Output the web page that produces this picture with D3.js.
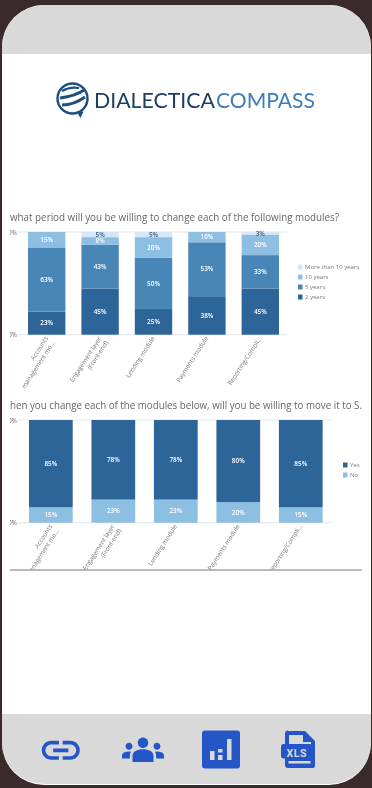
<!DOCTYPE html>
<html>
<head>
<meta charset="utf-8">
<script src="https://cdnjs.cloudflare.com/ajax/libs/d3/7.8.5/d3.min.js"></script>
<style>
html, body { margin: 0; padding: 0; background: #3b2a2b; overflow: hidden; }
text { font-family: "Open Sans", sans-serif; }
</style>
</head>
<body>
<div id="chart"></div>
<script>
var modules = [["Accounts", "management mo..."], ["Engagement layer", "(Front-end)"], ["Lending module"], ["Payments module"], ["Reporting/Compli..."]];

var periodKeys = ["2 years", "5 years", "10 years", "More than 10 years"];
var twoYears = [22.5, 45, 25, 37.5, 45];
var fiveYears = [62.5, 42.5, 50, 52.5, 32.5];
var tenYears = [15, 7.5, 20, 10, 20];
var moreThanTen = [0, 5, 5, 0, 2.5];

var moveKeys = ["No", "Yes"];
var moveNo = [15, 22.5, 22.5, 20, 15];
var moveYes = [85, 77.5, 77.5, 80, 85];

var titleOne = "what period will you be willing to change each of the following modules?";
var titleTwo = "hen you change each of the modules below, will you be willing to move it to S.";
var yTicks = [0, 100];

var c2 = "#2f6599", c5 = "#4a86b8", c10 = "#8dbfe3", cMore = "#d5e7f8";
var blue = "#2456c8";

var w = 372, h = 788;
var svg = d3.select("#chart").append("svg").attr("width", w).attr("height", h).style("display", "block");
var defs = svg.append("defs");
defs.append("clipPath").attr("id", "phone").append("rect")
    .attr("x", 2).attr("y", 5).attr("width", 369).attr("height", 779).attr("rx", 42);
defs.append("filter").attr("id", "soft").append("feGaussianBlur").attr("stdDeviation", 0.45);

// phone shell
svg.append("rect").attr("x", 2).attr("y", 5).attr("width", 369).attr("height", 780).attr("rx", 42).attr("fill", "#fff");
var screen = svg.append("g").attr("clip-path", "url(#phone)");
screen.append("rect").attr("x", 0).attr("y", 0).attr("width", w).attr("height", 54).attr("fill", "#d9d9d9");
screen.append("rect").attr("x", 0).attr("y", 714).attr("width", w).attr("height", 70).attr("fill", "#d9d9d9");

// logo
var logo = svg.append("g").attr("filter", "url(#soft)");
logo.append("circle").attr("cx", 72.5).attr("cy", 98.5).attr("r", 15).attr("fill", "none").attr("stroke", "#1f4f7e").attr("stroke-width", 2.4);
logo.append("path").attr("fill", "#1f4f7e").attr("d", "M80.500 118l3-6.500-7 0z");
logo.append("path").attr("fill", "none").attr("stroke", "#1f4f7e").attr("stroke-width", 2.2)
    .attr("d", "M62 91c5-3 11-4 17-3");
logo.append("path").attr("fill", "none").attr("stroke", "#1f4f7e").attr("stroke-width", 2.8)
    .attr("d", "M60 98c8-1 17-3 24-8");
logo.append("path").attr("fill", "none").attr("stroke", "#1f4f7e").attr("stroke-width", 2.8)
    .attr("d", "M62 105c8 0 16-3 23-8");
[["DIALECTICA", "#1c3f63", 94, 121], ["COMPASS", "#3f7cb8", 216, 99]].forEach(function (t) {
    logo.append("text").attr("x", t[2]).attr("y", 108).attr("font-size", 22)
        .attr("textLength", t[3]).attr("lengthAdjust", "spacingAndGlyphs")
        .style("font-family", "Lato").attr("fill", t[1]).text(t[0]);
});

function drawChart(cfg) {
    var g = svg.append("g").attr("filter", "url(#soft)");
    var clipId = "clip" + cfg.top;
    defs.append("clipPath").attr("id", clipId).append("rect")
        .attr("x", 10).attr("y", cfg.top - 20).attr("width", 352).attr("height", cfg.clipBottom - cfg.top + 20);
    g = g.append("g").attr("clip-path", "url(#" + clipId + ")");

    var rows = modules.map(function (m, i) {
        var row = { name: i };
        cfg.keys.forEach(function (k, j) { row[k] = cfg.values[j][i]; });
        return row;
    });
    var series = d3.stack().keys(cfg.keys)(rows);

    var x = d3.scaleBand().domain(d3.range(modules.length)).range(cfg.xRange).paddingInner(0.3).paddingOuter(0.15);
    var y = d3.scaleLinear().domain([0, 100]).range([cfg.top + 102.7, cfg.top]);

    g.append("text").attr("x", 10).attr("y", cfg.top - cfg.titleGap)
        .attr("font-size", 10).attr("textLength", cfg.titleLength).attr("lengthAdjust", "spacingAndGlyphs")
        .attr("fill", "#666").text(cfg.title);

    var yAxis = g.append("g").attr("transform", "translate(17,0)")
        .call(d3.axisLeft(y).tickValues(yTicks).tickSize(0).tickPadding(0).tickFormat(function (d) { return d + "%"; }));
    yAxis.select(".domain").remove();
    yAxis.selectAll("text").attr("font-size", 6.5).attr("fill", "#666").style("font-family", "Open Sans");

    g.append("g").selectAll("line").data(yTicks).enter().append("line")
        .attr("x1", cfg.xRange[0] - 3).attr("x2", cfg.xRange[1])
        .attr("y1", function (d) { return y(d); }).attr("y2", function (d) { return y(d); })
        .attr("stroke", "#e3e7ec").attr("stroke-width", 1);

    var groups = g.selectAll("g.layer").data(series).enter().append("g").attr("class", "layer")
        .attr("fill", function (d, i) { return cfg.colors[i]; });
    groups.selectAll("rect").data(function (d) { return d; }).enter().append("rect")
        .attr("x", function (d, i) { return x(i); })
        .attr("y", function (d) { return y(d[1]); })
        .attr("width", x.bandwidth())
        .attr("height", function (d) { return y(d[0]) - y(d[1]); });
    groups.selectAll("text").data(function (d) { return d; }).enter().append("text")
        .filter(function (d) { return d[1] - d[0] > 0; })
        .attr("x", function (d) { return x(d.data.name) + x.bandwidth() / 2; })
        .attr("y", function (d) { return y((d[0] + d[1]) / 2); })
        .attr("dy", "0.35em").attr("text-anchor", "middle").attr("font-size", 6.4).attr("font-weight", 600)
        .attr("fill", function (d) { return d[1] - d[0] < 6 ? "#3a5f85" : "#fff"; })
        .text(function (d) { return Math.round(d[1] - d[0]) + "%"; });

    // rotated category labels
    var xAxis = g.append("g").attr("transform", "translate(0," + (cfg.top + 102.7) + ")")
        .call(d3.axisBottom(x).tickSize(0).tickFormat(""));
    xAxis.select(".domain").remove();
    xAxis.selectAll(".tick").each(function (d) {
        var t = d3.select(this).select("text").text(null)
            .attr("transform", "translate(0,2.5) rotate(-57)")
            .attr("x", 0).attr("y", 0).attr("dy", null)
            .attr("text-anchor", "end").attr("font-size", 6.3).attr("fill", "#7a7a7a").style("font-family", "Open Sans");
        modules[d].forEach(function (line, i) {
            t.append("tspan").attr("x", 0).attr("y", 2 + i * 8).text(line);
        });
    });

    // legend
    var leg = g.append("g");
    cfg.legend.forEach(function (l, i) {
        leg.append("rect").attr("x", cfg.legendX).attr("y", cfg.legendY + i * cfg.legendStep - 2.5).attr("width", 4.5).attr("height", 5).attr("fill", l[1]);
        leg.append("text").attr("x", cfg.legendX + 7).attr("y", cfg.legendY + i * cfg.legendStep).attr("dy", "0.35em")
            .attr("font-size", 6).attr("fill", "#777").text(l[0]);
    });
}

drawChart({
    top: 232, clipBottom: 389, xRange: [20, 287], title: titleOne, titleLength: 329, titleGap: 11,
    keys: periodKeys, values: [twoYears, fiveYears, tenYears, moreThanTen], colors: [c2, c5, c10, cMore],
    legend: [["More than 10 years", cMore], ["10 years", c10], ["5 years", c5], ["2 years", c2]],
    legendX: 298, legendY: 267, legendStep: 10
});
drawChart({
    top: 420, clipBottom: 570, xRange: [19.6, 332], title: titleTwo, titleLength: 352, titleGap: 10.7,
    keys: moveKeys, values: [moveNo, moveYes], colors: [c10, c2],
    legend: [["Yes", c2], ["No", c10]],
    legendX: 343, legendY: 465, legendStep: 10
});

// divider under the second chart
svg.append("line").attr("x1", 10).attr("x2", 362).attr("y1", 570).attr("y2", 570).attr("stroke", "#a3a3a3").attr("stroke-width", 1.4);

// bottom icons
var icons = svg.append("g").attr("fill", blue);
icons.append("path").attr("transform", "translate(38,727.500) scale(1.9)")
    .attr("d", "M3.9 12c0-1.71 1.39-3.1 3.1-3.1h4V7H7c-2.76 0-5 2.24-5 5s2.24 5 5 5h4v-1.9H7c-1.71 0-3.1-1.39-3.1-3.1zM8 13h8v-2H8v2zm9-6h-4v1.9h4c1.71 0 3.1 1.39 3.1 3.1s-1.39 3.1-3.1 3.1h-4V17h4c2.76 0 5-2.24 5-5s-2.24-5-5-5z");
icons.append("path").attr("transform", "translate(122,727) scale(1.75)")
    .attr("d", "M12 12.75c1.63 0 3.07.39 4.24.9 1.08.48 1.76 1.56 1.76 2.73V20H6v-3.61c0-1.18.68-2.26 1.76-2.73 1.17-.52 2.61-.91 4.24-.91zM4 13c1.1 0 2-.9 2-2s-.9-2-2-2-2 .9-2 2 .9 2 2 2zm1.13 1.1c-.37-.06-.74-.1-1.13-.1-.99 0-1.93.21-2.78.58C.48 14.9 0 15.62 0 16.43V18h4.5v-1.61c0-.83.23-1.61.63-2.29zM20 13c1.1 0 2-.9 2-2s-.9-2-2-2-2 .9-2 2 .9 2 2 2zm4 3.43c0-.81-.48-1.53-1.22-1.85-.85-.37-1.79-.58-2.78-.58-.39 0-.76.04-1.13.1.4.68.63 1.46.63 2.29V18H24v-1.57zM12 6c1.66 0 3 1.34 3 3s-1.34 3-3 3-3-1.34-3-3 1.34-3 3-3z");
icons.append("rect").attr("x", 202).attr("y", 730.500).attr("width", 38).attr("height", 38).attr("rx", 3);
[[210, 751, 4.500, 9], [218, 749, 4.500, 3.500], [218, 755, 4.500, 5], [227, 739, 4.500, 21]].forEach(function (b) {
    icons.append("rect").attr("x", b[0]).attr("y", b[1]).attr("width", b[2]).attr("height", b[3]).attr("fill", "#d9d9d9");
});
icons.append("path").attr("d", "M288 731h17l10 10v24.500a2.500 2.500 0 0 1-2.500 2.500h-24.500a3 3 0 0 1-3-3v-31.500a3 3 0 0 1 3-3z");
icons.append("path").attr("fill", "#d9d9d9").attr("d", "M289 735h14v7h8v2.500h-22zM288.500 761h22v2.500h-22z");
icons.append("rect").attr("x", 281).attr("y", 744).attr("width", 31).attr("height", 14.500).attr("rx", 2.500);
icons.append("text").attr("x", 296.700).attr("y", 756.500).attr("text-anchor", "middle").attr("font-size", 10.500).attr("font-weight", 700)
    .attr("letter-spacing", 0.5).attr("fill", "#d9d9d9").style("font-family", "Roboto").text("XLS");
</script>
</body>
</html>
